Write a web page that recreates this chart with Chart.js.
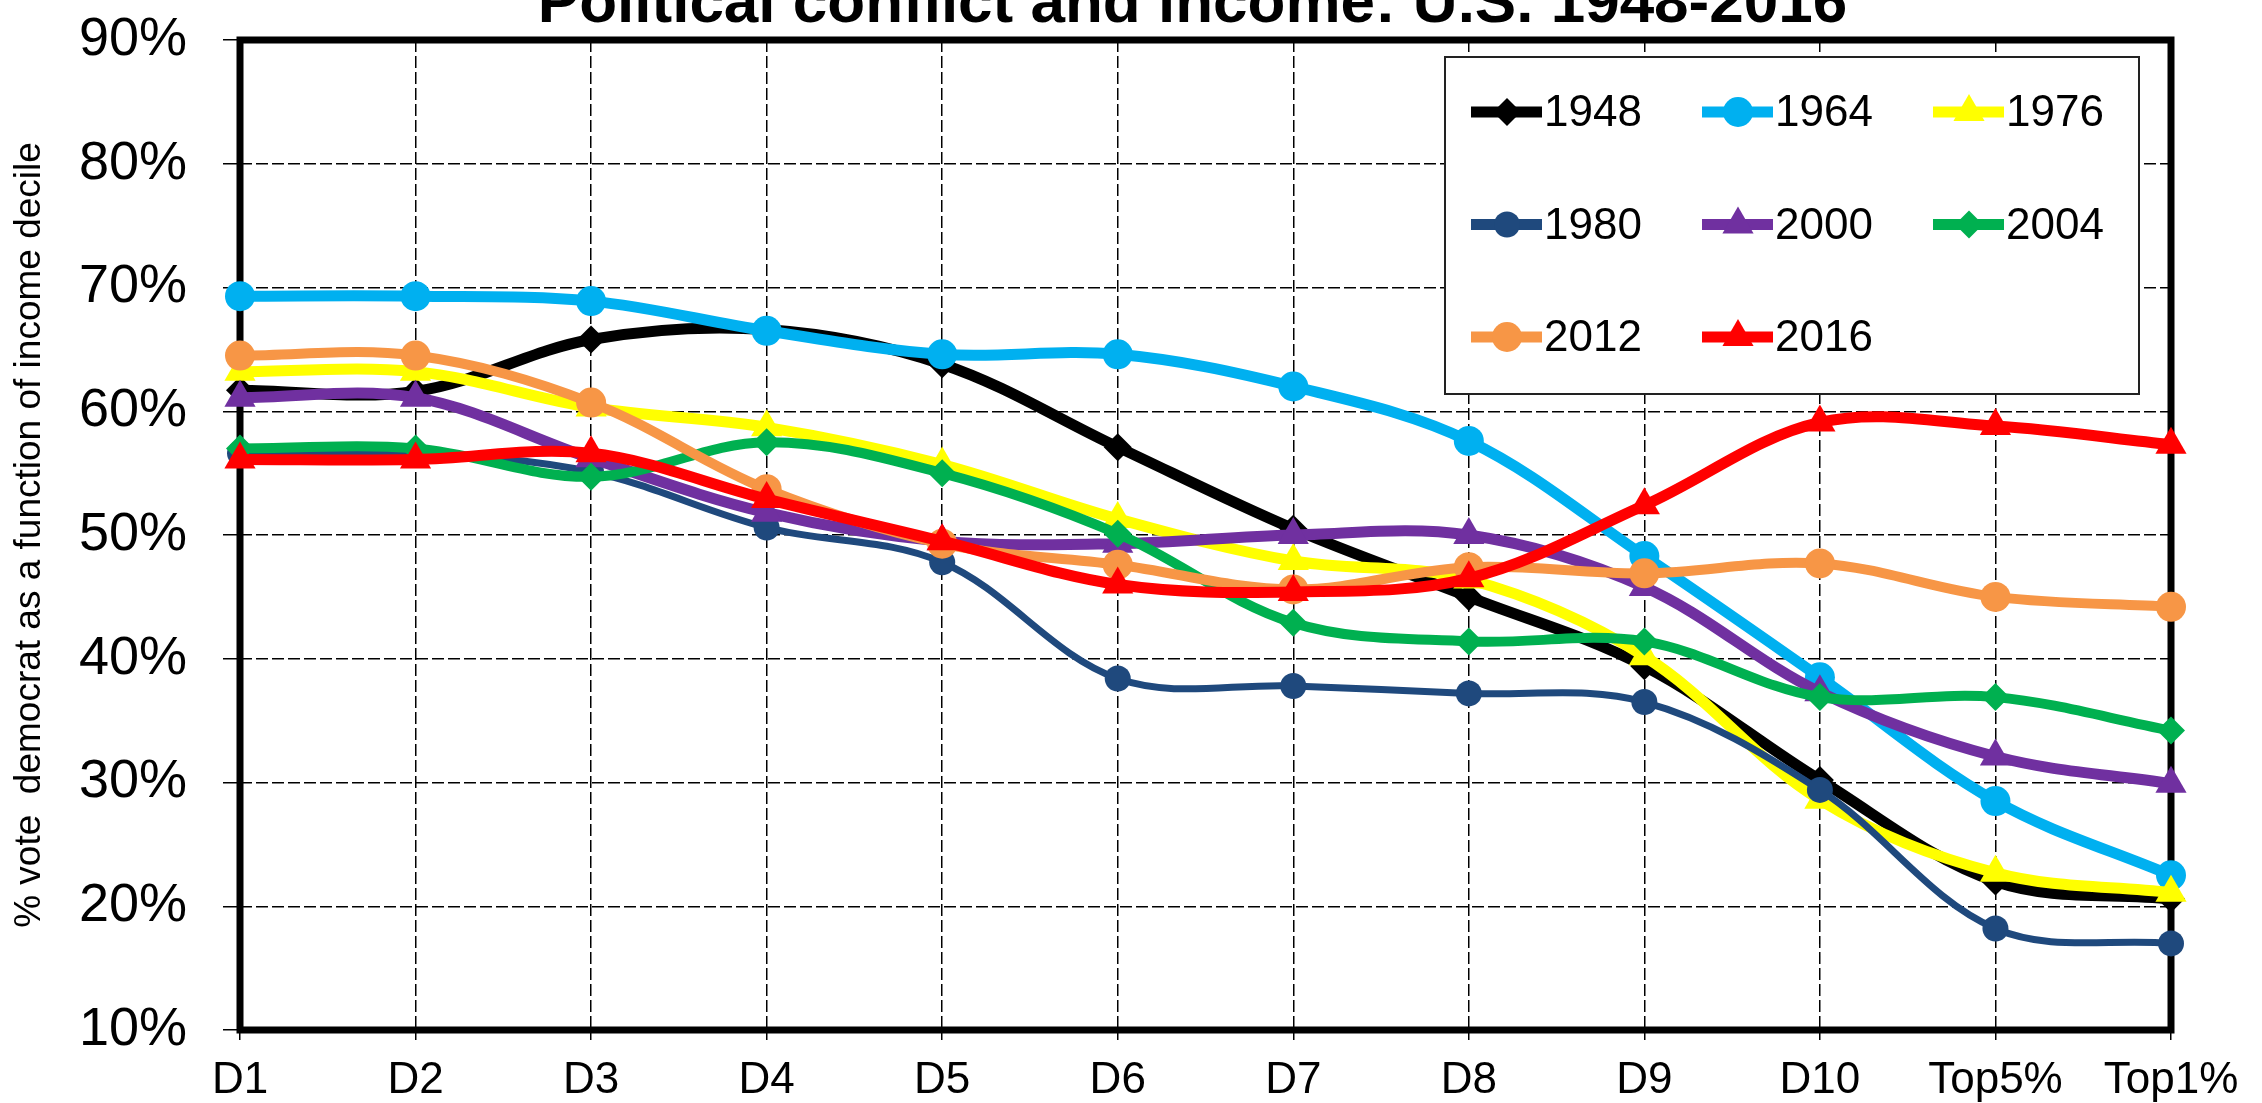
<!DOCTYPE html>
<html>
<head>
<meta charset="utf-8">
<title>Political conflict and income: U.S. 1948-2016</title>
<script src="https://cdn.jsdelivr.net/npm/chart.js@4.4.1/dist/chart.umd.min.js"></script>
<style>
  html, body { margin: 0; padding: 0; background: #fff; }
  canvas { display: block; }
</style>
</head>
<body>
<canvas id="chart" width="2262" height="1103"></canvas>
<script>
const FONT = '"Liberation Sans", Arial, sans-serif';

// Data
const deciles = ['D1', 'D2', 'D3', 'D4', 'D5', 'D6', 'D7', 'D8', 'D9', 'D10', 'Top5%', 'Top1%'];
const years = ['1948', '1964', '1976', '1980', '2000', '2004', '2012', '2016'];

const vote1948 = [61.7, 61.6, 65.8, 66.6, 63.8, 57.1, 50.5, 45.0, 39.4, 30.2, 22.0, 20.6];
const vote1964 = [69.3, 69.3, 68.9, 66.5, 64.6, 64.6, 62.0, 57.6, 48.3, 38.5, 28.5, 22.5];
const vote1976 = [63.2, 63.2, 60.3, 58.7, 55.7, 51.3, 47.9, 46.4, 40.2, 28.6, 22.7, 21.1];
const vote1980 = [56.6, 56.6, 55.1, 50.6, 47.8, 38.4, 37.8, 37.2, 36.5, 29.4, 18.2, 17.0];
const vote2000 = [61.1, 61.1, 56.2, 51.8, 49.5, 49.3, 50.0, 50.0, 45.8, 37.3, 32.1, 29.9];
const vote2004 = [57.0, 57.0, 54.7, 57.5, 55.0, 50.1, 42.9, 41.4, 41.4, 36.9, 36.9, 34.2];
const vote2012 = [64.5, 64.5, 60.7, 53.7, 49.3, 47.6, 45.6, 47.4, 46.9, 47.7, 45.0, 44.2];
const vote2016 = [56.1, 56.1, 56.6, 52.9, 49.5, 46.0, 45.4, 46.5, 52.4, 59.1, 58.8, 57.3];

const yMin = 10;
const yMax = 90;
const yStep = 10;

const titleText = 'Political conflict and income: U.S. 1948-2016';
const yTitle = '% vote  democrat as a function of income decile';

// Styles
const seriesValues = [vote1948, vote1964, vote1976, vote1980, vote2000, vote2004, vote2012, vote2016];
const colors = ['#000000', '#00B0F0', '#FFFF00', '#1F497D', '#7030A0', '#00B050', '#F79646', '#FF0000'];
const markers = ['rectRot', 'circle', 'triangle', 'circle', 'triangle', 'rectRot', 'circle', 'triangle'];
const markerSize = [14, 15, 18, 13, 18, 14, 15, 18];
const lineWidths = [11, 11, 11, 7, 11, 10, 10, 11];

Chart.defaults.font.family = FONT;
Chart.defaults.color = '#000';

const datasets = years.map((year, i) => ({
  label: year,
  data: seriesValues[i],
  borderColor: colors[i],
  backgroundColor: colors[i],
  borderWidth: lineWidths[i],
  pointStyle: markers[i],
  pointRadius: markerSize[i],
  pointHoverRadius: markerSize[i],
  pointBorderWidth: 0,
  pointBackgroundColor: colors[i],
  tension: 0.35,
  borderCapStyle: 'round',
  borderJoinStyle: 'round',
  clip: false,
  order: years.length - i
}));

// Frame round the plot area, under the lines
const framePlugin = {
  id: 'frame',
  beforeDatasetsDraw(chart) {
    const { ctx, chartArea: a } = chart;
    ctx.save();
    ctx.lineWidth = 7;
    ctx.strokeStyle = '#000';
    ctx.strokeRect(a.left, a.top, a.right - a.left, a.bottom - a.top);
    ctx.restore();
  }
};

// Title, cut at the top edge like the original
const titlePlugin = {
  id: 'cutTitle',
  afterDraw(chart) {
    const { ctx, chartArea: a } = chart;
    ctx.save();
    ctx.font = 'bold 62px ' + FONT;
    ctx.fillStyle = '#000';
    ctx.textAlign = 'center';
    ctx.textBaseline = 'alphabetic';
    ctx.fillText(titleText, (a.left + a.right) / 2 - 13, 22);
    ctx.restore();
  }
};

// Boxed legend in 3 columns inside the plot
const legendPlugin = {
  id: 'boxLegend',
  afterDatasetsDraw(chart) {
    const { ctx, chartArea: a } = chart;
    const boxW = 694, boxH = 337;
    const left = a.right - 726;
    const top = a.top + 17;
    ctx.save();
    ctx.fillStyle = '#fff';
    ctx.fillRect(left, top, boxW, boxH);
    ctx.lineWidth = 2;
    ctx.strokeStyle = '#222';
    ctx.strokeRect(left, top, boxW, boxH);

    chart.data.datasets.forEach((ds, i) => {
      const col = i % 3;
      const row = Math.floor(i / 3);
      const x0 = left + 26 + col * 231;
      const y = top + 55 + row * 112.5;
      ctx.strokeStyle = ds.borderColor;
      ctx.lineWidth = 11;
      ctx.lineCap = 'butt';
      ctx.beginPath();
      ctx.moveTo(x0, y);
      ctx.lineTo(x0 + 71, y);
      ctx.stroke();
      ctx.fillStyle = ds.backgroundColor;
      Chart.helpers.drawPoint(ctx, {
        pointStyle: ds.pointStyle,
        radius: ds.pointRadius,
        rotation: 0,
        borderWidth: 0
      }, x0 + 36, y);
      ctx.fillStyle = '#000';
      ctx.font = '44px ' + FONT;
      ctx.textAlign = 'left';
      ctx.textBaseline = 'middle';
      ctx.fillText(ds.label, x0 + 73, y + 2);
    });
    ctx.restore();
  }
};

new Chart(document.getElementById('chart'), {
  type: 'line',
  data: { labels: deciles, datasets },
  options: {
    responsive: false,
    animation: false,
    events: [],
    layout: { padding: { top: 40, right: 91, bottom: 0, left: 0 } },
    plugins: {
      legend: { display: false },
      tooltip: { enabled: false },
      title: { display: false }
    },
    scales: {
      x: {
        type: 'category',
        offset: false,
        grid: {
          offset: false,
          color: '#000',
          lineWidth: 1.5,
          tickLength: 10,
          tickColor: '#000',
          tickWidth: 1.5
        },
        border: { display: false, dash: [12, 4] },
        ticks: {
          font: { size: 44 },
          color: '#000',
          padding: 14,
          maxRotation: 0,
          autoSkip: false
        },
        afterFit(scale) {
          scale.height = 73;
          scale.paddingLeft = 0;
          scale.paddingRight = 0;
        }
      },
      y: {
        min: yMin,
        max: yMax,
        grid: {
          color: '#000',
          lineWidth: 1.5,
          tickLength: 17,
          tickColor: '#000',
          tickWidth: 1.5
        },
        border: { display: false, dash: [12, 4] },
        ticks: {
          stepSize: yStep,
          font: { size: 54 },
          color: '#000',
          padding: 36,
          callback: v => v + '%'
        },
        title: {
          display: true,
          text: yTitle,
          font: { size: 37 },
          color: '#000',
          padding: { top: 8, bottom: 0 }
        },
        afterFit(scale) {
          scale.width = 240;
          scale.paddingTop = 0;
          scale.paddingBottom = 0;
        }
      }
    }
  },
  plugins: [framePlugin, legendPlugin, titlePlugin]
});
</script>
</body>
</html>
